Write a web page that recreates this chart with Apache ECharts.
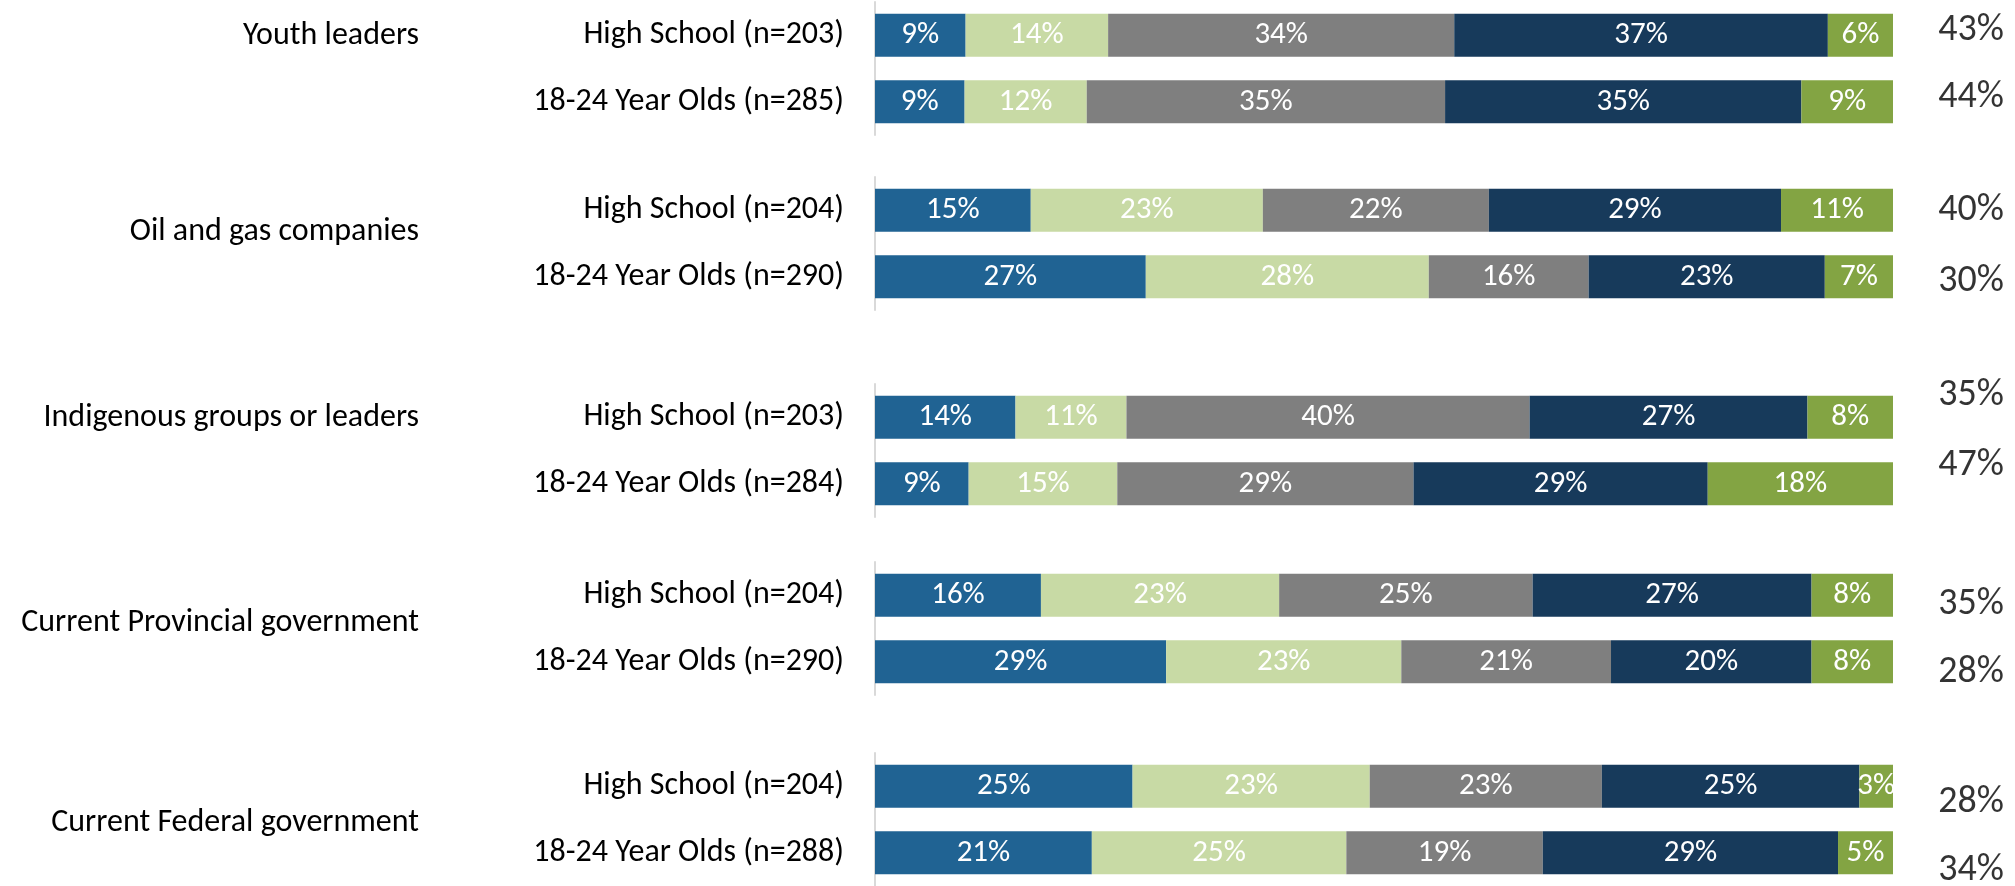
<!DOCTYPE html>
<html>
<head>
<meta charset="utf-8">
<script src="https://cdn.jsdelivr.net/npm/echarts@6/dist/echarts.min.js"></script>
<style>
html,body{margin:0;padding:0;background:#fff;}
#chart{width:2015px;height:886px;}
</style>
</head>
<body>
<div id="chart"></div>
<script>
// ---- data ----
const groups = ['Youth leaders', 'Oil and gas companies', 'Indigenous groups or leaders', 'Current Provincial government', 'Current Federal government'];
const rowLabels = [
  ['High School (n=203)', '18-24 Year Olds (n=285)'],
  ['High School (n=204)', '18-24 Year Olds (n=290)'],
  ['High School (n=203)', '18-24 Year Olds (n=284)'],
  ['High School (n=204)', '18-24 Year Olds (n=290)'],
  ['High School (n=204)', '18-24 Year Olds (n=288)']
];
const seriesNames = ['Segment 1', 'Segment 2', 'Segment 3', 'Segment 4', 'Segment 5'];
// values per row (group order, High School then 18-24)
const seg1 = [8.9, 8.8, 15.3, 26.6, 13.8, 9.2, 16.3, 28.6, 25.3, 21.3];
const seg2 = [14.0, 12.0, 22.8, 27.8, 10.9, 14.6, 23.4, 23.1, 23.3, 25.0];
const seg3 = [34.0, 35.2, 22.2, 15.7, 39.6, 29.1, 24.9, 20.6, 22.8, 19.3];
const seg4 = [36.7, 35.0, 28.7, 23.2, 27.3, 28.9, 27.4, 19.7, 25.3, 29.0];
const seg5 = [6.4, 9.0, 11.0, 6.7, 8.4, 18.2, 8.0, 8.0, 3.3, 5.4];
const totals = [43, 44, 40, 30, 35, 47, 35, 28, 28, 34];

// ---- style / layout ----
const colors = ['#206393', '#C8DAA5', '#7F7F7F', '#173A5B', '#83A443'];
const FONT = "Carlito, 'Liberation Sans Narrow', 'Arial Narrow', sans-serif";
const panelTops = [2, 177, 384, 562, 753];
const panelH = 133;
const groupLabelY = [36, 232, 418, 623, 823];
const totalDy = [-5, -4, 0, 5, -22, -18, 9, 11, 16, 18];
const segs = [seg1, seg2, seg3, seg4, seg5];

const grid = [], xAxis = [], yAxis = [], series = [], graphic = [];
groups.forEach((g, gi) => {
  grid.push({left: 875, right: 122, top: panelTops[gi], height: panelH, containLabel: false});
  xAxis.push({type: 'value', gridIndex: gi, min: 0, max: 100, show: false});
  yAxis.push({
    type: 'category', gridIndex: gi, inverse: true, data: rowLabels[gi],
    axisLine: {show: true, lineStyle: {color: '#d9d9d9', width: 2}},
    axisTick: {show: false},
    splitLine: {show: false},
    axisLabel: {fontFamily: FONT, fontSize: 32, color: '#000', margin: 31}
  });
  segs.forEach((arr, si) => {
    series.push({
      type: 'bar', name: seriesNames[si], xAxisIndex: gi, yAxisIndex: gi,
      stack: 'g' + gi, barWidth: 43,
      itemStyle: {color: colors[si]},
      label: {show: true, position: 'inside', color: '#fff', fontFamily: FONT, fontSize: 31,
        formatter: p => Math.round(p.value) + '%'},
      data: [arr[gi * 2], arr[gi * 2 + 1]],
      silent: true
    });
  });
  series.push({
    type: 'scatter', xAxisIndex: gi, yAxisIndex: gi, symbolSize: 2, clip: false,
    itemStyle: {color: 'rgba(255,255,255,0)'}, silent: true, z: 10,
    label: {show: true, position: 'inside', color: '#000', fontFamily: FONT, fontSize: 38,
      formatter: p => p.data.total + '%'},
    data: [0, 1].map(k => ({
      value: [100, k],
      total: totals[gi * 2 + k],
      label: {offset: [78, totalDy[gi * 2 + k]]}
    }))
  });
  graphic.push({
    type: 'text', x: 419, y: groupLabelY[gi],
    style: {text: g, align: 'right', verticalAlign: 'middle', fill: '#000', font: "32px " + FONT}
  });
});

const chart = echarts.init(document.getElementById('chart'), null, {renderer: 'canvas'});
chart.setOption({
  animation: false,
  backgroundColor: '#fff',
  grid, xAxis, yAxis, series, graphic
});
</script>
</body>
</html>
